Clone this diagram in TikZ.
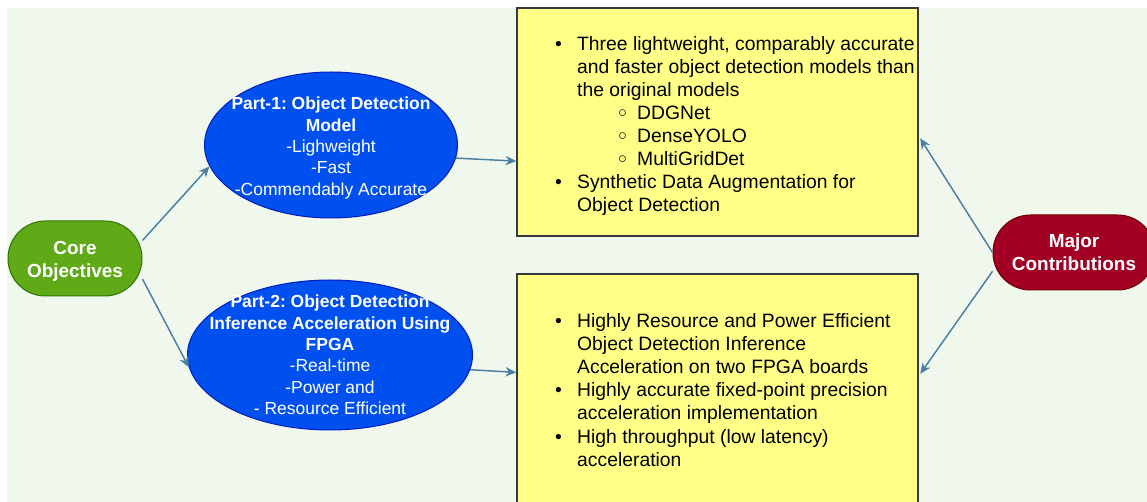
\documentclass[tikz,border=0pt]{standalone}
\usepackage{fontspec}
\setmainfont{Liberation Sans}
\newfontfamily\symfont{DejaVu Sans}
\usetikzlibrary{positioning,shapes.geometric,arrows.meta}
\frenchspacing

\definecolor{bgcol}{HTML}{F0F8EE}
\definecolor{greenfill}{HTML}{60A917}
\definecolor{greenline}{HTML}{2D7600}
\definecolor{bluefill}{HTML}{0050EF}
\definecolor{blueline}{HTML}{001DBC}
\definecolor{redfill}{HTML}{A20025}
\definecolor{redline}{HTML}{6F0000}
\definecolor{boxfill}{HTML}{FFFF88}
\definecolor{boxline}{HTML}{36393D}
\definecolor{linkcol}{HTML}{4A7FA2}

\newcommand{\listbul}{\makebox[16.5pt][l]{\textbullet}}
\newcommand{\listgap}{\hspace*{16.5pt}}
\newcommand{\listsub}{\hspace*{45.5pt}\makebox[16pt][l]{\raisebox{-1.6pt}{\symfont\fontsize{17}{17.3}\selectfont ◦}}}

\begin{document}
\begin{tikzpicture}[x=0.75pt, y=-0.75pt]
    \tikzstyle{stadium} = [rectangle, rounded corners=28pt, minimum width=100.5pt, minimum height=56.25pt, line width=0.75pt, text=white, align=center, font=\bfseries\fontsize{14.2}{17.25}\selectfont]
    \tikzstyle{partoval} = [ellipse, draw=blueline, fill=bluefill, line width=0.75pt]
    \tikzstyle{parttext} = [align=center, text=white, inner sep=0pt, font=\fontsize{13.1}{16}\selectfont]
    \tikzstyle{listbox} = [rectangle, draw=boxline, fill=boxfill, line width=1.1pt, minimum width=300.75pt]
    \tikzstyle{listtext} = [align=left, inner sep=0pt, font=\fontsize{14.5}{17.3}\selectfont]
    \tikzstyle{link} = [draw=linkcol, line width=1.1pt, -{Stealth[length=8pt,width=7pt,inset=2.5pt]}]

    \useasboundingbox (0,0) rectangle (1147,502);
    \clip (0,0) rectangle (1147,502);
    \fill[bgcol] (7,8) rectangle (1147,502);

    % left side
    \node[stadium, draw=greenline, fill=greenfill] (core) at (75,258.5) {};
    \node[stadium, text=white, inner sep=0pt] (coretext) at (75,261) {Core\\Objectives};
    \node[partoval, minimum width=189.75pt, minimum height=109.5pt] (part1) at (331,145) {};
    \node[parttext, yshift=-2.2pt] (part1text) at (part1) {\textbf{Part-1: Object Detection}\\\textbf{Model}\\-Lighweight\\-Fast\\-Commendably Accurate};
    \node[partoval, minimum width=213.75pt, minimum height=112.5pt] (part2) at (330,355) {};
    \node[parttext] (part2text) at (part2) {\textbf{Part-2: Object Detection}\\\textbf{Inference Acceleration Using}\\\textbf{FPGA}\\-Real-time\\-Power and\\- Resource Efficient};

    % contribution boxes
    \node[listbox, minimum height=171pt] (box1) at (717.5,122) {};
    \node[listtext, right=29pt of box1.west, yshift=-3pt] (list1) {\listbul Three lightweight, comparably accurate\\
        \listgap and faster object detection models than\\
        \listgap the original models\\
        \listsub DDGNet\\
        \listsub DenseYOLO\\
        \listsub MultiGridDet\\
        \listbul Synthetic Data Augmentation for\\
        \listgap Object Detection};
    \node[listbox, minimum height=174pt] (box2) at (717.5,390) {};
    \node[listtext, right=29pt of box2.west] (list2) {\listbul Highly Resource and Power Efficient\\
        \listgap Object Detection Inference\\
        \listgap Acceleration on two FPGA boards\\
        \listbul Highly accurate fixed-point precision\\
        \listgap acceleration implementation\\
        \listbul High throughput (low latency)\\
        \listgap acceleration};

    % right side
    \node[stadium, draw=redline, fill=redfill, minimum width=121.5pt] (major) at (1074,252.5) {Major\\Contributions};

    \draw[link] (core.15) -- (part1.190);
    \draw[link] (core.-17) -- (part2.185);
    \draw[link] (part1.-6) -- (box1.191);
    \draw[link] (part2.-6) -- (box2.175);
    \draw[link, shorten >=2pt] (major.west) -- (box1.-4);
    \draw[link, shorten >=2pt] (major.193) -- (box2.4);
\end{tikzpicture}
\end{document}
